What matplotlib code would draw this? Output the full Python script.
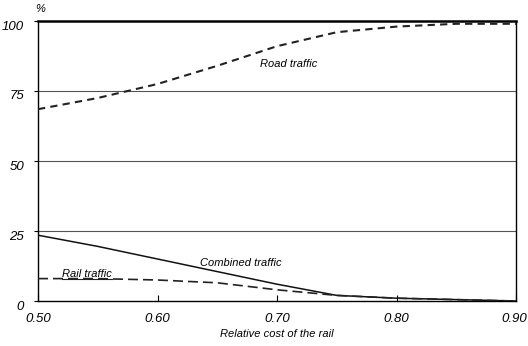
import matplotlib.pyplot as plt
from matplotlib.transforms import ScaledTranslation

plt.rcParams['font.family'] = ['Liberation Sans', 'DejaVu Sans']

cost = [0.50, 0.55, 0.60, 0.65, 0.70, 0.75, 0.80, 0.85, 0.90]
road = [68.5, 72.5, 77.5, 84.0, 91.0, 96.0, 98.0, 99.0, 99.0]
combined = [23.5, 19.5, 15.0, 10.5, 6.0, 2.0, 1.0, 0.5, 0.0]
rail = [8.0, 8.0, 7.5, 6.5, 4.0, 2.0, 1.0, 0.5, 0.0]
xticks = [0.50, 0.60, 0.70, 0.80, 0.90]
yticks = [0, 25, 50, 75, 100]

fig = plt.figure(figsize=(5.28, 3.46), dpi=100)
ax = fig.add_axes([38/528, 45/346, 478/528, 280/346])

for y in yticks[1:-1]:
    ax.axhline(y, color='#555555', lw=0.8, zorder=1)

ax.plot(cost, road, color='#222222', lw=1.5, dashes=(3.5, 2.5), zorder=3)
ax.plot(cost, combined, color='#111111', lw=1.1, zorder=3)
ax.plot(cost, rail, color='#222222', lw=1.2, dashes=(6, 3), zorder=3)

ax.set_xlim(0.50, 0.90)
ax.set_ylim(0, 100)
ax.set_xticks(xticks)
ax.set_xticklabels([f'{v:.2f}' for v in xticks])
ax.set_yticks(yticks)
ax.set_yticklabels([str(v) for v in yticks])
ax.tick_params(axis='x', direction='in', length=4, width=0.8, pad=9)
ax.tick_params(axis='y', direction='out', length=3, width=0.8, pad=7)
shift = ScaledTranslation(0, -4/100, fig.dpi_scale_trans)
for lbl in ax.get_xticklabels() + ax.get_yticklabels():
    lbl.set_fontstyle('italic')
    lbl.set_fontsize(9.5)
for lbl in ax.get_yticklabels():
    lbl.set_transform(lbl.get_transform() + shift)
last = ax.get_xticklabels()[-1]
last.set_transform(last.get_transform() + ScaledTranslation(-2/100, 0, fig.dpi_scale_trans))

for side in ['left', 'bottom', 'right']:
    ax.spines[side].set_linewidth(1.0)
ax.spines['top'].set_linewidth(1.8)

ax.text(0.71, 84.5, 'Road traffic', fontsize=8, style='italic', ha='center', va='center')
ax.text(0.67, 13.5, 'Combined traffic', fontsize=8, style='italic', ha='center', va='center')
rail_lbl = ax.text(0.541, 9.8, 'Rail traffic', fontsize=8, style='italic',
                   ha='center', va='center')

fig.text(40/528, 1 - 9/346, '%', fontsize=8, style='italic', ha='center', va='center')
fig.text(277/528, 1 - 334/346, 'Relative cost of the rail', fontsize=8, style='italic',
         ha='center', va='center')

# underline the rail label
fig.canvas.draw()
bb = rail_lbl.get_window_extent().transformed(ax.transAxes.inverted())
ax.plot([bb.x0, bb.x1], [bb.y0, bb.y0], color='#222222', lw=0.8,
        transform=ax.transAxes)

fig.savefig('out.png', dpi=100)
